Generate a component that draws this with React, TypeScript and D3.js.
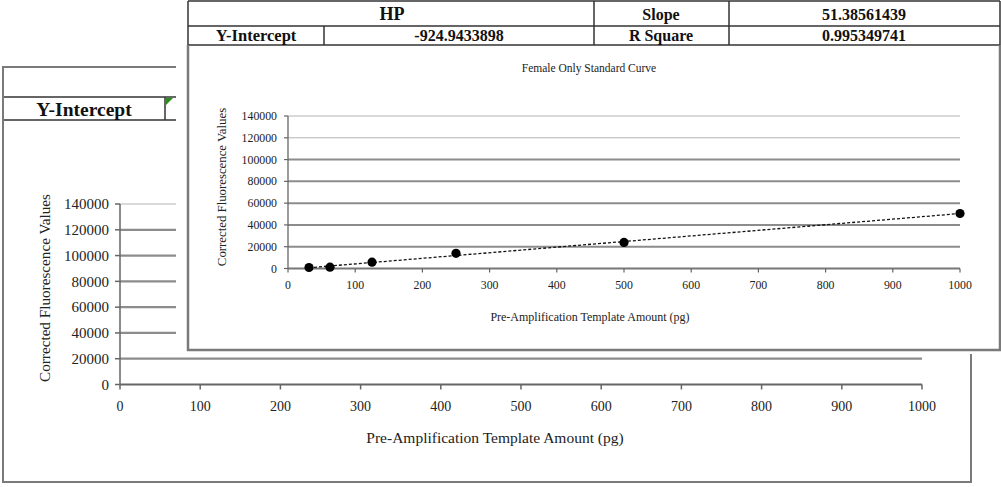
import React from "react";
import * as d3 from "d3";

// ---- data ----
const templateAmounts = [31.25, 62.5, 125, 250, 500, 1000];
const fluorescenceValues = [900, 1200, 5800, 13900, 23900, 50500];
const slope = 51.38561439;
const yIntercept = -924.9433898;
const rSquare = 0.995349741;
const yTicks = [0, 20000, 40000, 60000, 80000, 100000, 120000, 140000];
const xTicks = [0, 100, 200, 300, 400, 500, 600, 700, 800, 900, 1000];
const chartTitle = "Female Only Standard Curve";
const xTitle = "Pre-Amplification Template Amount (pg)";
const yTitle = "Corrected Fluorescence Values";
const tableHeader = "HP";

const FONT = "'Liberation Serif', 'Times New Roman', serif";
const GRID = "#8c8c8c";
const GRID_LIGHT = "#b4b4b4";
const BORDER = "#7a7a7a";

export default function App() {
  // back chart scales
  const bx = d3.scaleLinear().domain([0, 1000]).range([120, 922]);
  const by = d3.scaleLinear().domain([0, 140000]).range([384.5, 204]);
  // front chart scales
  const fx = d3.scaleLinear().domain([0, 1000]).range([288, 960]);
  const fy = d3.scaleLinear().domain([0, 140000]).range([268.5, 116]);

  const trendX = [templateAmounts[0], templateAmounts[templateAmounts.length - 1]];
  const trend = d3
    .line<number>()
    .x((d) => fx(d))
    .y((d) => fy(slope * d + yIntercept))(trendX);

  return (
    <svg
      width={1001}
      height={487}
      style={{ position: "absolute", left: 0, top: 0, background: "#fff" }}
    >
      <rect x={0} y={0} width={1001} height={487} fill="#fff" />

      {/* ---------- BACK CHART ---------- */}
      <g stroke="#333" strokeWidth={1.5}>
        <line x1={3} x2={176} y1={67} y2={67} />
        <line x1={3} x2={176} y1={97} y2={97} />
        <line x1={3} x2={176} y1={120} y2={120} />
        <line x1={165} x2={165} y1={97} y2={120} />
      </g>
      <polygon points="166,98 173,98 166,105" fill="#2e8b1e" />
      <text
        x={84}
        y={116}
        textAnchor="middle"
        fontFamily={FONT}
        fontWeight="bold"
        fontSize={19.5}
        fill="#111"
      >
        Y-Intercept
      </text>
      <rect x={3} y={67} width={968} height={415} fill="none" stroke={BORDER} strokeWidth={2} />

      {yTicks.slice(1).map((t) => (
        <line
          key={"bg" + t}
          x1={bx(0)}
          x2={bx(1000)}
          y1={by(t)}
          y2={by(t)}
          stroke={t === 140000 ? GRID_LIGHT : GRID}
          strokeWidth={t === 140000 ? 1 : 2.2}
        />
      ))}
      <line x1={bx(0)} x2={bx(0)} y1={by(140000)} y2={by(0)} stroke="#666" strokeWidth={1.5} />
      <line x1={bx(0)} x2={bx(1000)} y1={by(0)} y2={by(0)} stroke="#666" strokeWidth={2} />
      {yTicks.map((t) => (
        <g key={"byt" + t}>
          <line x1={bx(0) - 5} x2={bx(0)} y1={by(t)} y2={by(t)} stroke="#666" strokeWidth={1.5} />
          <text
            x={109}
            y={by(t)}
            dy="0.35em"
            textAnchor="end"
            fontFamily={FONT}
            fontSize={15}
            fill="#222"
          >
            {t}
          </text>
        </g>
      ))}
      {xTicks.map((t) => (
        <g key={"bxt" + t}>
          <line x1={bx(t)} x2={bx(t)} y1={by(0)} y2={by(0) + 5} stroke="#666" strokeWidth={1.5} />
          <text
            x={bx(t)}
            y={411}
            textAnchor="middle"
            fontFamily={FONT}
            fontSize={14}
            fill="#222"
          >
            {t}
          </text>
        </g>
      ))}
      <text x={495} y={443} textAnchor="middle" fontFamily={FONT} fontSize={15.5} fill="#222">
        {xTitle}
      </text>
      <text
        transform="translate(50,288) rotate(-90)"
        textAnchor="middle"
        fontFamily={FONT}
        fontSize={15.2}
        fill="#222"
      >
        {yTitle}
      </text>

      {/* ---------- FRONT CHART ---------- */}
      <rect x={176} y={0} width={825} height={354} fill="#fff" />
      <g stroke="#333" strokeWidth={1.5}>
        <line x1={188} x2={1000} y1={1} y2={1} />
        <line x1={188} x2={1000} y1={26} y2={26} />
        <line x1={188} x2={1000} y1={45} y2={45} />
        <line x1={188} x2={188} y1={1} y2={45} />
        <line x1={594} x2={594} y1={1} y2={45} />
        <line x1={729} x2={729} y1={1} y2={45} />
        <line x1={1000} x2={1000} y1={1} y2={45} />
        <line x1={324} x2={324} y1={26} y2={45} />
      </g>
      <g fontFamily={FONT} fontWeight="bold" fill="#111" textAnchor="middle">
        <text x={392} y={20} fontSize={18}>{tableHeader}</text>
        <text x={661} y={20} fontSize={16}>Slope</text>
        <text x={864} y={20} fontSize={16}>{String(slope)}</text>
        <text x={256} y={41} fontSize={16.5}>Y-Intercept</text>
        <text x={459} y={41} fontSize={16}>{String(yIntercept)}</text>
        <text x={661} y={41} fontSize={16}>R Square</text>
        <text x={864} y={41} fontSize={16}>{String(rSquare)}</text>
      </g>
      <path d="M188,45 V350 H1000 V45" fill="none" stroke={BORDER} strokeWidth={2.5} />

      <text x={589} y={72} textAnchor="middle" fontFamily={FONT} fontSize={11.5} fill="#222">
        {chartTitle}
      </text>

      {yTicks.slice(1).map((t) => (
        <line
          key={"fg" + t}
          x1={fx(0)}
          x2={fx(1000)}
          y1={fy(t)}
          y2={fy(t)}
          stroke={t >= 120000 ? GRID_LIGHT : GRID}
          strokeWidth={t >= 120000 ? 1 : 2}
        />
      ))}
      <line x1={fx(0)} x2={fx(0)} y1={fy(140000)} y2={fy(0)} stroke="#666" strokeWidth={1.3} />
      <line x1={fx(0)} x2={fx(1000)} y1={fy(0)} y2={fy(0)} stroke="#777" strokeWidth={2} />
      {yTicks.map((t) => (
        <g key={"fyt" + t}>
          <line x1={fx(0) - 4} x2={fx(0)} y1={fy(t)} y2={fy(t)} stroke="#666" strokeWidth={1.2} />
          <text
            x={277}
            y={fy(t)}
            dy="0.35em"
            textAnchor="end"
            fontFamily={FONT}
            fontSize={11.8}
            fill="#222"
          >
            {t}
          </text>
        </g>
      ))}
      {xTicks.map((t) => (
        <g key={"fxt" + t}>
          <line x1={fx(t)} x2={fx(t)} y1={fy(0)} y2={fy(0) + 4} stroke="#666" strokeWidth={1.2} />
          <text
            x={fx(t)}
            y={289}
            textAnchor="middle"
            fontFamily={FONT}
            fontSize={11.8}
            fill="#222"
          >
            {t}
          </text>
        </g>
      ))}
      <text x={590} y={321} textAnchor="middle" fontFamily={FONT} fontSize={12} fill="#222">
        {xTitle}
      </text>
      <text
        transform="translate(226,187) rotate(-90)"
        textAnchor="middle"
        fontFamily={FONT}
        fontSize={12.8}
        fill="#222"
      >
        {yTitle}
      </text>

      <path d={trend || ""} fill="none" stroke="#111" strokeWidth={1.3} strokeDasharray="3,2" />
      {templateAmounts.map((x, i) => (
        <circle key={"pt" + i} cx={fx(x)} cy={fy(fluorescenceValues[i])} r={4.6} fill="#000" />
      ))}
    </svg>
  );
}
